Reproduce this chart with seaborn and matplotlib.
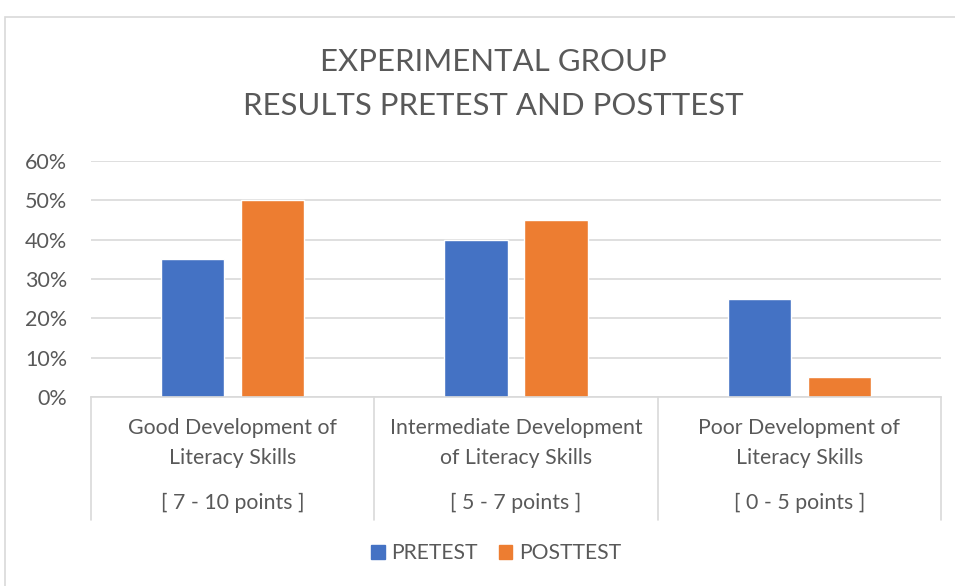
import matplotlib
matplotlib.use("Agg")
import matplotlib.pyplot as plt
import seaborn as sns
import pandas as pd
from matplotlib.patches import Rectangle
from matplotlib.lines import Line2D
from matplotlib.ticker import PercentFormatter

cat_line1 = ["Good Development of", "Intermediate Development", "Poor Development of"]
cat_line2 = ["Literacy Skills", "of Literacy Skills", "Literacy Skills"]
ranges = ["[ 7 - 10 points ]", "[ 5 - 7 points ]", "[ 0 - 5 points ]"]
series = ["PRETEST", "POSTTEST"]
pretest = [0.35, 0.40, 0.25]
posttest = [0.50, 0.45, 0.05]
colors = ["#4472C4", "#ED7D31"]
title_lines = ["EXPERIMENTAL GROUP", "RESULTS PRETEST AND POSTTEST"]

df = pd.DataFrame({
    "cat": list(range(3)) * 2,
    "series": [series[0]] * 3 + [series[1]] * 3,
    "value": pretest + posttest,
})

sns.set_theme(style="white")
plt.rcParams['font.family'] = ['Lato', 'DejaVu Sans']
txt = "#595959"
grid = "#D9D9D9"

fig = plt.figure(figsize=(9.55, 5.86), dpi=100)
fig.patch.set_facecolor("white")
fig.patches.append(Rectangle((5/955, -0.1), 1.2, 1 - 17/586 + 0.1, transform=fig.transFigure,
                             fill=False, edgecolor=grid, linewidth=1.2))

ax = fig.add_axes([91/955, (586-397)/586, (941-91)/955, (397-161)/586])
sns.barplot(data=df, x="cat", y="value", hue="series", palette=colors,
            width=0.564, gap=0.21, ax=ax, legend=False, saturation=1)
ax.set_xlim(-0.5, 2.5)
ax.set_ylim(0, 0.6)
ax.set_yticks([0, 0.1, 0.2, 0.3, 0.4, 0.5, 0.6])
ax.yaxis.set_major_formatter(PercentFormatter(1.0, decimals=0))
ax.tick_params(axis="y", labelsize=15.5, colors=txt, length=0, pad=17)
ax.set_xticks([])
ax.set_xlabel("")
ax.set_ylabel("")
ax.yaxis.grid(True, color=grid, linewidth=1.2)
ax.set_axisbelow(True)
for s in ["top", "right", "left"]:
    ax.spines[s].set_visible(False)
ax.spines["bottom"].set_color(grid)
ax.spines["bottom"].set_linewidth(1.2)

def ypix(p):
    return -(p - 397) / 236 * 0.6

for xv in [-0.5, 0.5, 1.5, 2.5]:
    ax.add_line(Line2D([xv, xv], [0, ypix(520)], color=grid, linewidth=1.2, clip_on=False))
for i in range(3):
    for yy, s in [(428, cat_line1[i]), (458, cat_line2[i]), (503, ranges[i])]:
        ax.text(i, ypix(yy), s, ha="center", va="center", fontsize=15.3, color=txt)

for yy, s in zip([62, 106], title_lines):
    fig.text(493/955, 1 - yy/586, s, ha="center", va="center", fontsize=22.4, color=txt)

handles = [Rectangle((0, 0), 1, 1, color=c) for c in colors]
fig.legend(handles, series, loc="center", bbox_to_anchor=(496/955, 1 - 553/586), ncol=2,
           frameon=False, fontsize=15.2, labelcolor=txt, handlelength=0.65, handleheight=0.65,
           handletextpad=0.3, columnspacing=1.0)

fig.savefig("out.png", dpi=100)
